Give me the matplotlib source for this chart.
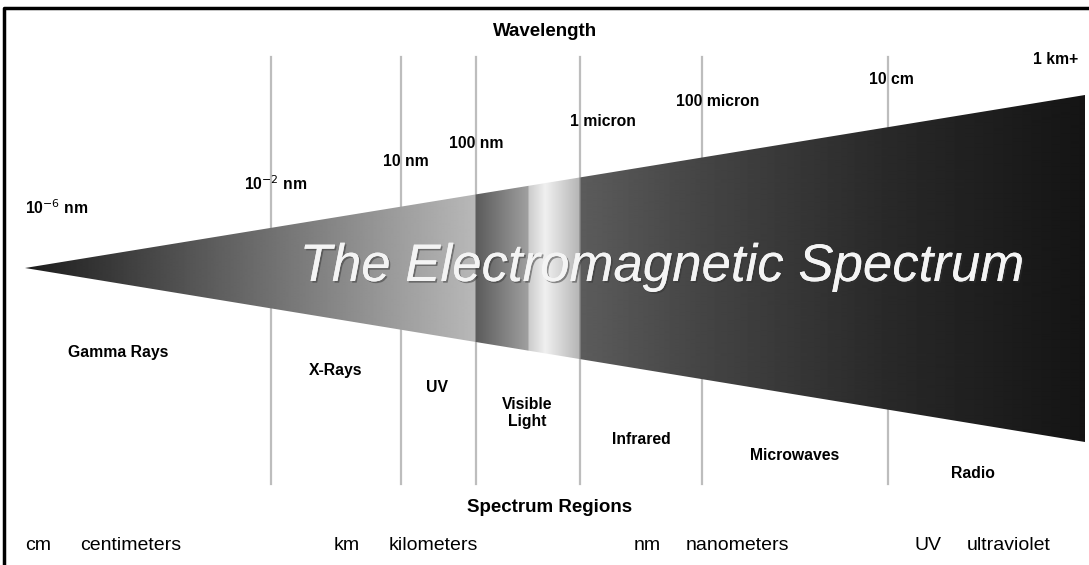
import numpy as np
import matplotlib
matplotlib.use("Agg")
from matplotlib import pyplot as plt
from matplotlib.patches import Polygon
import matplotlib.patheffects as pe

# wavelength marks along the wedge (schematic positions)
boundary_labels = ["10$^{-6}$ nm", "10$^{-2}$ nm", "10 nm", "100 nm",
                   "1 micron", "100 micron", "10 cm", "1 km+"]
label_x = [25, 244, 383, 449, 570, 676, 869, 1033]
label_y = [208, 184, 161, 143, 122, 101, 80, 59]
divider_x = [271, 401, 476, 580, 702, 888]

regions = ["Gamma Rays", "X-Rays", "UV", "Visible\nLight",
           "Infrared", "Microwaves", "Radio"]
region_x = [118, 336, 437, 527, 641, 795, 973]
region_y = [353, 370, 388, 413, 440, 456, 474]

abbrev = ["cm", "km", "nm", "UV"]
abbrev_full = ["centimeters", "kilometers", "nanometers", "ultraviolet"]
abbrev_x = [25, 334, 634, 915]
full_x = [80, 389, 686, 967]

# grey level of the wedge along its length
shade_x = [25, 270, 474, 476, 527, 529, 545, 578, 581, 700, 888, 1085]
shade_v = [0.11, 0.44, 0.72, 0.36, 0.62, 0.80, 0.94, 0.72, 0.36, 0.27, 0.16, 0.08]

W, H = 1089, 565
fig = plt.figure(figsize=(W / 100, H / 100), dpi=100)
ax = fig.add_axes([0, 0, 1, 1])
ax.axis("off")

font = "Liberation Sans"

# frame (top and left edges)
ax.plot([4, 4, W], [H, 8, 8], color="black", lw=2.5, solid_capstyle="butt")

# vertical divider lines
for x in divider_x:
    ax.plot([x, x], [57, 484], color="#bdbdbd", lw=1.6, zorder=1)

# wedge with gradient
wedge = Polygon([(25, 268), (1085, 95), (1085, 442)], closed=True,
                facecolor="none", edgecolor="none")
ax.add_patch(wedge)
cols = np.arange(0, W)
row = np.interp(cols, shade_x, shade_v)
img = np.tile(row, (2, 1))
im = ax.imshow(img, cmap="gray", vmin=0, vmax=1, aspect="auto",
               extent=(0, W, 442, 95), zorder=2, interpolation="bilinear")
im.set_clip_path(wedge)
ax.set_xlim(0, W)
ax.set_ylim(H, 0)

# title inside the wedge
ax.text(662, 267, "The Electromagnetic Spectrum", ha="center", va="center",
        fontsize=38, style="italic", color="#f4f4f4", family=font, zorder=3,
        path_effects=[pe.withSimplePatchShadow(offset=(1.2, -1.2),
                                               shadow_rgbFace="#333333", alpha=0.5),
                      pe.Normal()])

# headings
ax.text(545, 31, "Wavelength", ha="center", va="center", fontsize=13.5,
        fontweight="bold", family=font)
ax.text(550, 507, "Spectrum Regions", ha="center", va="center", fontsize=13.5,
        fontweight="bold", family=font)

# wavelength labels
for lab, x, y in zip(boundary_labels, label_x, label_y):
    ax.text(x, y, lab, ha="left", va="center", fontsize=11.3,
            fontweight="bold", family=font, zorder=4)

# region labels
for lab, x, y in zip(regions, region_x, region_y):
    ax.text(x, y, lab, ha="center", va="center", fontsize=11.3,
            fontweight="bold", family=font, linespacing=1.2)

# abbreviations key
for a, f, xa, xf in zip(abbrev, abbrev_full, abbrev_x, full_x):
    ax.text(xa, 546, a, ha="left", va="center", fontsize=14, family=font)
    ax.text(xf, 546, f, ha="left", va="center", fontsize=14, family=font)

fig.savefig("out.png", dpi=100)
